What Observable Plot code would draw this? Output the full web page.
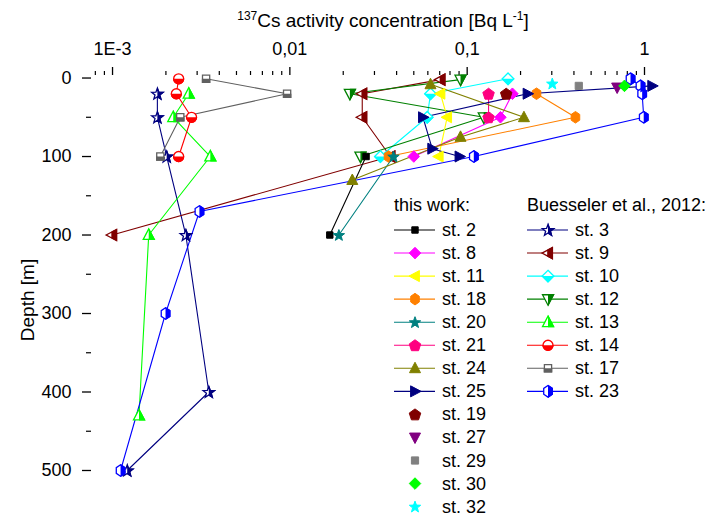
<!DOCTYPE html>
<html><head><meta charset="utf-8">
<script src="https://cdn.jsdelivr.net/npm/d3@7"></script>
<script src="https://cdn.jsdelivr.net/npm/@observablehq/plot@0.6"></script>
<style>
body{margin:0;background:#fff;}
#chart{width:713px;height:517px;}
</style></head><body><div id="chart"></div>
<script>
// ---------- DATA (depth in m, 137Cs in Bq/L) ----------
// this work
const st2_depth  = [100, 200];
const st2_conc   = [0.0269, 0.0168];
const st8_depth  = [20, 50, 100];
const st8_conc   = [0.180, 0.154, 0.0500];
const st11_depth = [20, 50, 100];
const st11_conc  = [0.0707, 0.0771, 0.0691];
const st18_depth = [20, 50, 100];
const st18_conc  = [0.246, 0.408, 0.036];
const st20_depth = [100, 200];
const st20_conc  = [0.0384, 0.0189];
const st21_depth = [20, 50];
const st21_conc  = [0.132, 0.132];
const st24_depth = [8, 50, 75, 130];
const st24_conc  = [0.0621, 0.209, 0.0917, 0.0225];
const st25_depth = [10, 20, 50, 90, 100];
const st25_conc  = [1.105, 0.219, 0.0563, 0.0635, 0.0905];
const st19_depth = [20];
const st19_conc  = [0.166];
const st27_depth = [12];
const st27_conc  = [0.701];
const st29_depth = [10];
const st29_conc  = [0.426];
const st30_depth = [10];
const st30_conc  = [0.771];
const st32_depth = [7];
const st32_conc  = [0.302];
// Buesseler et al., 2012
const b3_depth  = [20, 50, 100, 200, 400, 500];
const b3_conc   = [0.00179, 0.00179, 0.00202, 0.00259, 0.00349, 0.00121];
const b9_depth  = [2, 20, 50, 100, 200];
const b9_conc   = [0.0707, 0.0256, 0.0256, 0.0369, 0.000995];
const b10_depth = [1, 20, 50, 100];
const b10_conc  = [0.170, 0.0621, 0.0595, 0.0324];
const b12_depth = [2, 20, 50, 100];
const b12_conc  = [0.0917, 0.0218, 0.124, 0.0250];
const b13_depth = [20, 50, 100, 200, 430];
const b13_conc  = [0.00269, 0.00220, 0.00356, 0.00160, 0.00141];
const b14_depth = [1, 20, 50, 100];
const b14_conc  = [0.00236, 0.00229, 0.00279, 0.00236];
const b17_depth = [1, 20, 50, 100];
const b17_conc  = [0.00337, 0.00965, 0.00241, 0.00186];
const b23_depth = [1, 10, 20, 50, 100, 170, 300, 500];
const b23_conc  = [0.834, 0.949, 0.970, 0.990, 0.109, 0.00309, 0.00199, 0.00111];

const xTickValues = [0.001, 0.01, 0.1, 1];
const xTickLabels = ["1E-3", "0,01", "0,1", "1"];
const yTickValues = [0, 100, 200, 300, 400, 500];
const yMinorTicks = [50, 150, 250, 350, 450];
const xTitle = ["137", "Cs activity concentration [Bq L", "-1", "]"];
const yTitle = "Depth [m]";
const legendHeaders = ["this work:", "Buesseler et al., 2012:"];

// ---------- SYMBOLS ----------
function poly(pts) {
  return { draw(ctx, size) {
    const r = Math.sqrt(size / Math.PI);
    ctx.moveTo(pts[0][0] * r, pts[0][1] * r);
    for (let i = 1; i < pts.length; i++) ctx.lineTo(pts[i][0] * r, pts[i][1] * r);
    ctx.closePath();
  }};
}
const hexPts = d3.range(6).map(k => { const a = Math.PI / 6 + k * Math.PI / 3; return [0.9 * Math.cos(a), 1.05 * Math.sin(a)]; });
const pentPts = d3.range(5).map(k => { const a = -Math.PI / 2 + k * 2 * Math.PI / 5; return [1.1 * Math.cos(a), 1.1 * Math.sin(a) + 0.1]; });
const starPts = d3.range(10).map(k => { const a = -Math.PI / 2 + k * Math.PI / 5; const R = k % 2 ? 0.5 : 1.2; return [R * Math.cos(a), R * Math.sin(a) + 0.1]; });
const SYM = {
  square: poly([[-0.8,-0.8],[0.8,-0.8],[0.8,0.8],[-0.8,0.8]]),
  diamond: poly([[0,-1.05],[1.05,0],[0,1.05],[-1.05,0]]),
  triUp: poly([[0,-1.1],[1.0,0.8],[-1.0,0.8]]),
  triDown: poly([[0,1.1],[1.0,-0.8],[-1.0,-0.8]]),
  triLeft: poly([[-1.1,0],[0.8,-1.0],[0.8,1.0]]),
  triRight: poly([[1.1,0],[-0.8,-1.0],[-0.8,1.0]]),
  hexagon: poly(hexPts),
  pentagon: poly(pentPts),
  star: poly(starPts),
  circle: { draw(ctx, size) { const r = Math.sqrt(size / Math.PI); ctx.moveTo(r, 0); ctx.arc(0, 0, r, 0, 2 * Math.PI); } }
};

// ---------- STYLE TABLES ----------
const thisWork = [
  {name: "st. 2",  depth: st2_depth,  conc: st2_conc,  color: "#000000", shape: "square",   r: 4,   line: true},
  {name: "st. 8",  depth: st8_depth,  conc: st8_conc,  color: "#FF00FF", shape: "diamond",  r: 5.5, line: true},
  {name: "st. 11", depth: st11_depth, conc: st11_conc, color: "#FFFF00", shape: "triLeft",  r: 5.5, line: true},
  {name: "st. 18", depth: st18_depth, conc: st18_conc, color: "#FF8000", shape: "hexagon",  r: 5.5, line: true},
  {name: "st. 20", depth: st20_depth, conc: st20_conc, color: "#008080", shape: "star",     r: 5,   line: true},
  {name: "st. 21", depth: st21_depth, conc: st21_conc, color: "#FF0080", shape: "pentagon", r: 5.5, line: true},
  {name: "st. 24", depth: st24_depth, conc: st24_conc, color: "#808000", shape: "triUp",    r: 5.5, line: true},
  {name: "st. 25", depth: st25_depth, conc: st25_conc, color: "#000080", shape: "triRight", r: 5.5, line: true},
  {name: "st. 19", depth: st19_depth, conc: st19_conc, color: "#800000", shape: "pentagon", r: 5.5, line: false},
  {name: "st. 27", depth: st27_depth, conc: st27_conc, color: "#800080", shape: "triDown",  r: 5.5, line: false},
  {name: "st. 29", depth: st29_depth, conc: st29_conc, color: "#808080", shape: "square",   r: 4.5, line: false},
  {name: "st. 30", depth: st30_depth, conc: st30_conc, color: "#00FF00", shape: "diamond",  r: 5.5, line: false},
  {name: "st. 32", depth: st32_depth, conc: st32_conc, color: "#00FFFF", shape: "star",     r: 5,   line: false}
];
const buesseler = [
  {name: "st. 3",  depth: b3_depth,  conc: b3_conc,  color: "#000080", shape: "star",     r: 5,   half: "R"},
  {name: "st. 9",  depth: b9_depth,  conc: b9_conc,  color: "#800000", shape: "triLeft",  r: 5.5, half: "R"},
  {name: "st. 10", depth: b10_depth, conc: b10_conc, color: "#00FFFF", shape: "diamond",  r: 5.5, half: "B"},
  {name: "st. 12", depth: b12_depth, conc: b12_conc, color: "#008000", shape: "triDown",  r: 5.5, half: "R"},
  {name: "st. 13", depth: b13_depth, conc: b13_conc, color: "#00FF00", shape: "triUp",    r: 5.5, half: "R"},
  {name: "st. 14", depth: b14_depth, conc: b14_conc, color: "#FF0000", shape: "circle",   r: 5,   half: "B"},
  {name: "st. 17", depth: b17_depth, conc: b17_conc, color: "#606060", shape: "square",   r: 4.5, half: "B"},
  {name: "st. 23", depth: b23_depth, conc: b23_conc, color: "#0000FF", shape: "hexagon",  r: 5.5, half: "R"}
];
const rowsOf = s => s.depth.map((d, i) => ({depth: d, conc: s.conc[i]}));

// ---------- MARKS ----------
const marks = [];
const minorX = [];
for (let e = -4; e <= 0; e++) for (let m = 2; m <= 9; m++) { const v = m * Math.pow(10, e); if (v > 7.7e-4 && v < 1.43) minorX.push(v); }

marks.push(Plot.axisX({anchor: "top", ticks: xTickValues, tickFormat: d => xTickLabels[xTickValues.indexOf(d)], tickSize: 8, tickPadding: 12, fontSize: 18, label: null, line: true, stroke: "#000", color: "#000", strokeWidth: 1.3}));
marks.push(Plot.axisX({anchor: "top", ticks: minorX, tickFormat: () => "", tickSize: 4, label: null, stroke: "#000", strokeWidth: 1.2}));
marks.push(Plot.axisY({anchor: "left", ticks: yTickValues, tickFormat: d => String(d), tickSize: 9, tickPadding: 11, fontSize: 18, label: null, line: true, stroke: "#000", color: "#000", strokeWidth: 1.3}));
marks.push(Plot.axisY({anchor: "left", ticks: yMinorTicks, tickFormat: () => "", tickSize: 5, label: null, stroke: "#000", strokeWidth: 1.2}));

for (const s of buesseler) {
  marks.push(Plot.line(rowsOf(s), {x: "conc", y: "depth", stroke: s.color, strokeWidth: 1.1}));
}
for (const s of thisWork) {
  if (s.line) marks.push(Plot.line(rowsOf(s), {x: "conc", y: "depth", stroke: s.color, strokeWidth: 1.1}));
}
for (const s of buesseler) {
  const data = rowsOf(s);
  marks.push(Plot.dot(data, {x: "conc", y: "depth", symbol: SYM[s.shape], r: s.r, fill: "white", stroke: s.color, strokeWidth: 1.3}));
  marks.push(Plot.dot(data, {x: "conc", y: "depth", symbol: SYM[s.shape], r: s.r, fill: s.color, stroke: s.color, strokeWidth: 1.3,
    ariaDescription: "half" + s.half, ariaLabel: () => "half" + s.half}));
}
for (const s of thisWork) {
  marks.push(Plot.dot(rowsOf(s), {x: "conc", y: "depth", symbol: SYM[s.shape], r: s.r, fill: s.color, stroke: s.color, strokeWidth: 1}));
}

const chart = Plot.plot({
  width: 713, height: 517,
  marginLeft: 91, marginRight: 41, marginTop: 74, marginBottom: 12,
  style: {fontFamily: "'Liberation Sans', Arial, sans-serif", background: "white", color: "#000"},
  x: {type: "log", domain: [7.61e-4, 1.4385]},
  y: {domain: [-4.5, 544.6], reverse: true},
  marks
});
document.getElementById("chart").appendChild(chart);

// ---------- post: half fills, titles, legend ----------
const svg = d3.select(chart);
const defs = svg.insert("defs", ":first-child");
defs.append("clipPath").attr("id", "clipR").attr("clipPathUnits", "objectBoundingBox")
  .append("rect").attr("x", 0.5).attr("y", -0.2).attr("width", 0.8).attr("height", 1.4);
defs.append("clipPath").attr("id", "clipB").attr("clipPathUnits", "objectBoundingBox")
  .append("rect").attr("x", -0.2).attr("y", 0.5).attr("width", 1.4).attr("height", 0.8);
for (const h of ["R", "B"]) {
  svg.selectAll(`g[aria-description="half${h}"] path, path[aria-label="half${h}"]`).attr("clip-path", `url(#clip${h})`);
}

const FONT = "'Liberation Sans', Arial, sans-serif";
const t = svg.append("text").attr("x", 383).attr("y", 27).attr("text-anchor", "middle")
  .attr("font-family", FONT).attr("font-size", 19).attr("fill", "#000");
t.append("tspan").attr("font-size", 12).attr("dy", -7).text(xTitle[0]);
t.append("tspan").attr("dy", 7).text(xTitle[1]);
t.append("tspan").attr("font-size", 12).attr("dy", -7).text(xTitle[2]);
t.append("tspan").attr("dy", 7).text(xTitle[3]);

svg.append("text").attr("transform", "translate(27,300) rotate(-90)").attr("text-anchor", "middle")
  .attr("dominant-baseline", "central").attr("font-family", FONT).attr("font-size", 19).attr("fill", "#000").text(yTitle);

const lg = svg.append("g").attr("font-family", FONT).attr("font-size", 18).attr("fill", "#000").attr("text-anchor", "start");
const rowY = i => 230 + 23.05 * i;
function legendCol(x0, header, list, isHalf) {
  lg.append("text").attr("x", x0).attr("y", 205).attr("text-anchor", "start").attr("dominant-baseline", "central").text(header);
  list.forEach((s, i) => {
    const y = rowY(i);
    if (s.line !== false) lg.append("line").attr("x1", x0).attr("x2", x0 + 41).attr("y1", y).attr("y2", y).attr("stroke", s.color).attr("stroke-width", 1.1);
    const p = d3.symbol(SYM[s.shape], Math.PI * s.r * s.r)();
    const tr = `translate(${x0 + 21},${y})`;
    if (isHalf) {
      lg.append("path").attr("d", p).attr("transform", tr).attr("fill", "white").attr("stroke", s.color).attr("stroke-width", 1.3);
      lg.append("path").attr("d", p).attr("transform", tr).attr("fill", s.color).attr("stroke", s.color).attr("stroke-width", 1.3).attr("clip-path", `url(#clip${s.half})`);
    } else {
      lg.append("path").attr("d", p).attr("transform", tr).attr("fill", s.color).attr("stroke", s.color).attr("stroke-width", 1);
    }
    lg.append("text").attr("x", x0 + 48).attr("y", y).attr("text-anchor", "start").attr("dominant-baseline", "central").text(s.name);
  });
}
legendCol(394, legendHeaders[0], thisWork, false);
legendCol(527, legendHeaders[1], buesseler, true);
</script></body></html>
